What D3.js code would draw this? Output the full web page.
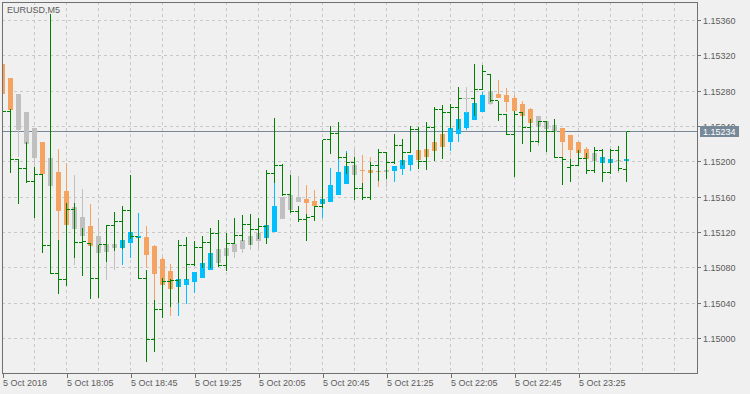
<!DOCTYPE html>
<html>
<head>
<meta charset="utf-8">
<script src="https://cdn.jsdelivr.net/npm/d3@7"></script>
<style>
  body { margin: 0; background: #f0f0f0; }
  svg { display: block; font-family: "Liberation Sans", Arial, sans-serif; font-size: 9px; }
</style>
</head>
<body>
<svg id="chart" width="750" height="394"></svg>
<script>
// EURUSD M5, 5 Oct 2018 17:25 .. 23:55 (79 bars)
const symbolTitle = "EURUSD,M5";
const lastPrice = 1.15234;

// price bars (drawn as green OHLC bars, silver when open == close)
const barOpen = [1.15265, 1.15257, 1.15203, 1.15193, 1.15178, 1.15186, 1.15105, 1.15074, 1.15067, 1.15146,
  1.15109, 1.15108, 1.15068, 1.15106, 1.15128, 1.15132, 1.15145, 1.15115, 1.15068, 1.14999,
  1.15033, 1.15065, 1.15066, 1.15105, 1.15084, 1.15103, 1.15109, 1.15119, 1.15083, 1.15108,
  1.15117, 1.15129, 1.15123, 1.15127, 1.15187, 1.15196, 1.15163, 1.15144, 1.15135, 1.15138,
  1.15149, 1.15225, 1.15232, 1.15205, 1.15199, 1.15170, 1.15160, 1.15196, 1.15211, 1.15199,
  1.15219, 1.15211, 1.15237, 1.15200, 1.15239, 1.15259, 1.15256, 1.15261, 1.15272, 1.15272,
  1.15282, 1.15299, 1.15269, 1.15254, 1.15231, 1.15256, 1.15239, 1.15223, 1.15246, 1.15234,
  1.15205, 1.15194, 1.15196, 1.15204, 1.15190, 1.15213, 1.15188, 1.15213, 1.15191];
const barHigh = [1.15270, 1.15260, 1.15203, 1.15223, 1.15194, 1.15186, 1.15367, 1.15111, 1.15153, 1.15153,
  1.15125, 1.15108, 1.15106, 1.15129, 1.15143, 1.15150, 1.15185, 1.15115, 1.15078, 1.15044,
  1.15068, 1.15067, 1.15111, 1.15115, 1.15110, 1.15116, 1.15125, 1.15134, 1.15119, 1.15136,
  1.15140, 1.15141, 1.15136, 1.15191, 1.15250, 1.15197, 1.15185, 1.15150, 1.15141, 1.15150,
  1.15225, 1.15240, 1.15245, 1.15210, 1.15205, 1.15176, 1.15200, 1.15214, 1.15211, 1.15231,
  1.15226, 1.15240, 1.15239, 1.15245, 1.15262, 1.15264, 1.15265, 1.15285, 1.15285, 1.15311,
  1.15310, 1.15299, 1.15269, 1.15254, 1.15257, 1.15256, 1.15248, 1.15246, 1.15246, 1.15248,
  1.15205, 1.15203, 1.15213, 1.15210, 1.15217, 1.15215, 1.15214, 1.15218, 1.15234];
const barLow = [1.15253, 1.15188, 1.15153, 1.15177, 1.15137, 1.15098, 1.15074, 1.15052, 1.15061, 1.15092,
  1.15072, 1.15046, 1.15047, 1.15088, 1.15100, 1.15103, 1.15114, 1.15068, 1.14974, 1.14986,
  1.15024, 1.15037, 1.15041, 1.15067, 1.15083, 1.15081, 1.15081, 1.15082, 1.15077, 1.15108,
  1.15111, 1.15107, 1.15114, 1.15108, 1.15177, 1.15163, 1.15143, 1.15133, 1.15112, 1.15134,
  1.15149, 1.15210, 1.15204, 1.15187, 1.15158, 1.15158, 1.15158, 1.15179, 1.15182, 1.15199,
  1.15197, 1.15211, 1.15193, 1.15192, 1.15202, 1.15204, 1.15238, 1.15238, 1.15256, 1.15253,
  1.15282, 1.15269, 1.15247, 1.15231, 1.15184, 1.15221, 1.15212, 1.15223, 1.15212, 1.15205,
  1.15175, 1.15178, 1.15196, 1.15187, 1.15188, 1.15178, 1.15187, 1.15191, 1.15178];
const barClose = [1.15257, 1.15203, 1.15193, 1.15178, 1.15186, 1.15105, 1.15074, 1.15067, 1.15146, 1.15109,
  1.15110, 1.15068, 1.15106, 1.15128, 1.15132, 1.15145, 1.15115, 1.15068, 1.14999, 1.15033,
  1.15065, 1.15066, 1.15105, 1.15084, 1.15103, 1.15109, 1.15119, 1.15083, 1.15108, 1.15117,
  1.15129, 1.15123, 1.15127, 1.15187, 1.15196, 1.15163, 1.15144, 1.15135, 1.15137, 1.15149,
  1.15225, 1.15232, 1.15205, 1.15199, 1.15170, 1.15160, 1.15196, 1.15211, 1.15199, 1.15219,
  1.15211, 1.15237, 1.15200, 1.15239, 1.15259, 1.15256, 1.15261, 1.15272, 1.15272, 1.15282,
  1.15302, 1.15269, 1.15254, 1.15231, 1.15254, 1.15239, 1.15223, 1.15246, 1.15234, 1.15205,
  1.15203, 1.15196, 1.15204, 1.15190, 1.15213, 1.15188, 1.15213, 1.15192, 1.15234];

// indicator candles
const candleOpen = [1.15311, 1.15295, 1.15277, 1.15256, 1.15238, 1.15222, 1.15204, 1.15188, 1.15167, 1.15149,
  1.15137, 1.15127, 1.15116, 1.15107, 1.15107, 1.15103, 1.15108, 1.15114, 1.15115, 1.15105,
  1.15090, 1.15076, 1.15058, 1.15061, 1.15064, 1.15069, 1.15077, 1.15101, 1.15102, 1.15107,
  1.15111, 1.15116, 1.15119, 1.15114, 1.15120, 1.15160, 1.15163, 1.15160, 1.15158, 1.15156,
  1.15152, 1.15154, 1.15163, 1.15175, 1.15196, 1.15191, 1.15191, 1.15190, 1.15191, 1.15190,
  1.15192, 1.15196, 1.15213, 1.15215, 1.15223, 1.15231, 1.15223, 1.15231, 1.15238, 1.15247,
  1.15256, 1.15280, 1.15277, 1.15276, 1.15272, 1.15265, 1.15260, 1.15252, 1.15246, 1.15242,
  1.15238, 1.15230, 1.15222, 1.15215, 1.15210, 1.15199, 1.15199, 1.15202, 1.15201];
const candleHigh = [1.15311, 1.15295, 1.15277, 1.15256, 1.15238, 1.15222, 1.15204, 1.15214, 1.15199, 1.15185,
  1.15169, 1.15152, 1.15136, 1.15107, 1.15107, 1.15112, 1.15120, 1.15142, 1.15127, 1.15106,
  1.15092, 1.15084, 1.15067, 1.15067, 1.15075, 1.15098, 1.15097, 1.15101, 1.15102, 1.15107,
  1.15111, 1.15116, 1.15119, 1.15129, 1.15177, 1.15160, 1.15191, 1.15184, 1.15174, 1.15168,
  1.15158, 1.15193, 1.15204, 1.15212, 1.15214, 1.15208, 1.15205, 1.15190, 1.15191, 1.15195,
  1.15202, 1.15208, 1.15213, 1.15215, 1.15223, 1.15231, 1.15238, 1.15248, 1.15263, 1.15267,
  1.15279, 1.15280, 1.15293, 1.15284, 1.15276, 1.15269, 1.15261, 1.15252, 1.15246, 1.15242,
  1.15238, 1.15230, 1.15222, 1.15217, 1.15210, 1.15206, 1.15203, 1.15202, 1.15203];
const candleLow = [1.15277, 1.15259, 1.15206, 1.15220, 1.15194, 1.15186, 1.15173, 1.15111, 1.15129, 1.15083,
  1.15111, 1.15105, 1.15097, 1.15066, 1.15077, 1.15083, 1.15091, 1.15114, 1.15080, 1.15044,
  1.15061, 1.15026, 1.15026, 1.15039, 1.15051, 1.15068, 1.15077, 1.15086, 1.15077, 1.15091,
  1.15097, 1.15100, 1.15103, 1.15107, 1.15120, 1.15135, 1.15146, 1.15154, 1.15141, 1.15150,
  1.15136, 1.15154, 1.15163, 1.15175, 1.15185, 1.15176, 1.15187, 1.15171, 1.15171, 1.15177,
  1.15185, 1.15190, 1.15193, 1.15206, 1.15201, 1.15204, 1.15212, 1.15223, 1.15236, 1.15247,
  1.15256, 1.15264, 1.15272, 1.15256, 1.15257, 1.15252, 1.15244, 1.15218, 1.15221, 1.15234,
  1.15206, 1.15203, 1.15210, 1.15203, 1.15201, 1.15199, 1.15199, 1.15187, 1.15201];
const candleClose = [1.15277, 1.15259, 1.15236, 1.15220, 1.15204, 1.15186, 1.15173, 1.15144, 1.15129, 1.15124,
  1.15116, 1.15105, 1.15097, 1.15098, 1.15102, 1.15112, 1.15120, 1.15116, 1.15094, 1.15073,
  1.15061, 1.15056, 1.15067, 1.15067, 1.15075, 1.15086, 1.15097, 1.15086, 1.15093, 1.15098,
  1.15101, 1.15106, 1.15110, 1.15129, 1.15150, 1.15135, 1.15146, 1.15154, 1.15153, 1.15150,
  1.15158, 1.15174, 1.15188, 1.15195, 1.15185, 1.15190, 1.15187, 1.15188, 1.15188, 1.15195,
  1.15202, 1.15208, 1.15202, 1.15206, 1.15212, 1.15217, 1.15238, 1.15248, 1.15256, 1.15267,
  1.15276, 1.15265, 1.15272, 1.15268, 1.15257, 1.15252, 1.15244, 1.15239, 1.15237, 1.15234,
  1.15222, 1.15213, 1.15210, 1.15203, 1.15201, 1.15206, 1.15203, 1.15201, 1.15203];
// d = down (orange), u = up (blue), f = flat (silver)
const candleTrend = ("ddfffdfddf" + "fdfffuuudd" + "dduuuuufff" + "fffuufffdd" +
  "uuuufdddfu" + "uudddduuuu" + "ufdddddfff" + "ddddfuufu").split("");

const priceTicks = [1.15000, 1.15040, 1.15080, 1.15120, 1.15160, 1.15200, 1.15240, 1.15280, 1.15320, 1.15360];
const timeLabels = ["5 Oct 2018", "5 Oct 18:05", "5 Oct 18:45", "5 Oct 19:25", "5 Oct 20:05",
  "5 Oct 20:45", "5 Oct 21:25", "5 Oct 22:05", "5 Oct 22:45", "5 Oct 23:25"];
const timeLabelBars = [0, 8, 16, 24, 32, 40, 48, 56, 64, 72];

const TREND_COLOR = { d: "#f4a460", u: "#00bfff", f: "#c0c0c0" };
const BAR_COLOR = "#008000";
const DOJI_COLOR = "#c0c0c0";
const GRID_COLOR = "#c8c8c8";
const FRAME_COLOR = "#707070";
const TEXT_COLOR = "#5c5c5c";

const plotLeft = 2, plotRight = 697, plotTop = 2, plotBottom = 373;

const svg = d3.select("#chart");

const x = d3.scaleLinear().domain([0, 86.875]).range([plotLeft + 0.5, plotRight + 0.5]);
const y = d3.scaleLinear().domain([1.15000, 1.15360]).range([338.5, 20.5]);
const py = (v) => Math.round(y(v) - 0.5) + 0.5; // crisp line row
const ry = (v) => Math.round(y(v)); // rect edge

svg.append("rect").attr("width", 750).attr("height", 394).attr("fill", "#f0f0f0");

svg.append("defs").append("clipPath").attr("id", "plot-clip")
  .append("rect")
  .attr("x", plotLeft).attr("y", plotTop)
  .attr("width", plotRight - plotLeft).attr("height", plotBottom - plotTop);

// grid
const grid = svg.append("g")
  .attr("stroke", GRID_COLOR)
  .attr("stroke-dasharray", "3,3")
  .attr("shape-rendering", "crispEdges");
grid.selectAll("line.h").data(priceTicks).enter().append("line")
  .attr("class", "h")
  .attr("x1", plotLeft).attr("x2", plotRight)
  .attr("y1", (d) => py(d)).attr("y2", (d) => py(d));
grid.selectAll("line.v").data(d3.range(4, 86, 4)).enter().append("line")
  .attr("class", "v")
  .attr("x1", (d) => x(d)).attr("x2", (d) => x(d))
  .attr("y1", plotTop).attr("y2", plotBottom);

const plot = svg.append("g").attr("clip-path", "url(#plot-clip)");

// current price line
plot.append("line")
  .attr("x1", plotLeft).attr("x2", plotRight)
  .attr("y1", py(lastPrice)).attr("y2", py(lastPrice))
  .attr("stroke", "#778899")
  .attr("shape-rendering", "crispEdges");

// indicator candles
const candles = candleOpen.map((o, i) => ({
  i, o, h: candleHigh[i], l: candleLow[i], c: candleClose[i], t: candleTrend[i],
}));
const cg = plot.append("g").attr("shape-rendering", "crispEdges");
cg.selectAll("line").data(candles).enter().append("line")
  .attr("x1", (d) => x(d.i)).attr("x2", (d) => x(d.i))
  .attr("y1", (d) => ry(d.h)).attr("y2", (d) => ry(d.l))
  .attr("stroke", (d) => TREND_COLOR[d.t]);
cg.selectAll("rect").data(candles).enter().append("rect")
  .attr("x", (d) => x(d.i) - 2.5)
  .attr("width", 5)
  .attr("y", (d) => ry(Math.max(d.o, d.c)))
  .attr("height", (d) => Math.max(1, ry(Math.min(d.o, d.c)) - ry(Math.max(d.o, d.c))))
  .attr("fill", (d) => TREND_COLOR[d.t]);

// price bars on top
const bars = barOpen.map((o, i) => ({
  i, o, h: barHigh[i], l: barLow[i], c: barClose[i],
}));
const bg = plot.append("g").attr("shape-rendering", "crispEdges");
const bar = bg.selectAll("g").data(bars).enter().append("g")
  .attr("stroke", (d) => (d.o === d.c ? DOJI_COLOR : BAR_COLOR));
bar.append("line")
  .attr("x1", (d) => x(d.i)).attr("x2", (d) => x(d.i))
  .attr("y1", (d) => ry(d.h)).attr("y2", (d) => ry(d.l) + 1);
bar.append("line")
  .attr("x1", (d) => x(d.i) - 3.5).attr("x2", (d) => x(d.i) - 0.5)
  .attr("y1", (d) => py(d.o)).attr("y2", (d) => py(d.o));
bar.append("line")
  .attr("x1", (d) => x(d.i) + 0.5).attr("x2", (d) => x(d.i) + 3.5)
  .attr("y1", (d) => py(d.c)).attr("y2", (d) => py(d.c));

// frame
svg.append("rect")
  .attr("x", plotLeft + 0.5).attr("y", plotTop + 0.5)
  .attr("width", plotRight - plotLeft).attr("height", plotBottom - plotTop)
  .attr("fill", "none")
  .attr("stroke", FRAME_COLOR)
  .attr("shape-rendering", "crispEdges");

// price axis
const yAxis = svg.append("g")
  .attr("transform", `translate(${plotRight + 0.5},0)`)
  .call(d3.axisRight(y).tickValues(priceTicks).tickSize(3).tickFormat(d3.format(".5f")));
yAxis.select(".domain").remove();
yAxis.selectAll(".tick").attr("transform", (d) => `translate(0,${py(d)})`);
yAxis.selectAll(".tick line").attr("stroke", FRAME_COLOR).attr("shape-rendering", "crispEdges");
yAxis.selectAll(".tick text")
  .attr("x", 5.5).attr("dy", "0.36em")
  .attr("fill", TEXT_COLOR)
  .style("font-family", "Liberation Sans, Arial, sans-serif")
  .style("font-size", "9px");

// time axis
const xAxis = svg.append("g")
  .attr("transform", `translate(0,${plotBottom + 0.5})`)
  .call(d3.axisBottom(x).tickValues(timeLabelBars).tickSize(4)
    .tickFormat((d, i) => timeLabels[i]));
xAxis.select(".domain").remove();
xAxis.selectAll(".tick line").attr("stroke", FRAME_COLOR).attr("shape-rendering", "crispEdges");
xAxis.selectAll(".tick text")
  .attr("y", 12.5).attr("dy", 0)
  .attr("text-anchor", "start")
  .attr("fill", TEXT_COLOR)
  .style("font-family", "Liberation Sans, Arial, sans-serif")
  .style("font-size", "9px");

// current price label
const priceLabel = svg.append("g").attr("transform", `translate(700,${py(lastPrice) - 5.5})`);
priceLabel.append("rect")
  .attr("width", 39).attr("height", 11)
  .attr("fill", "#778899");
priceLabel.append("text")
  .attr("x", 3).attr("y", 9)
  .attr("fill", "#ffffff")
  .text(d3.format(".5f")(lastPrice));

// title
svg.append("text")
  .attr("x", 7).attr("y", 13)
  .attr("fill", TEXT_COLOR)
  .text(symbolTitle);
</script>
</body>
</html>
